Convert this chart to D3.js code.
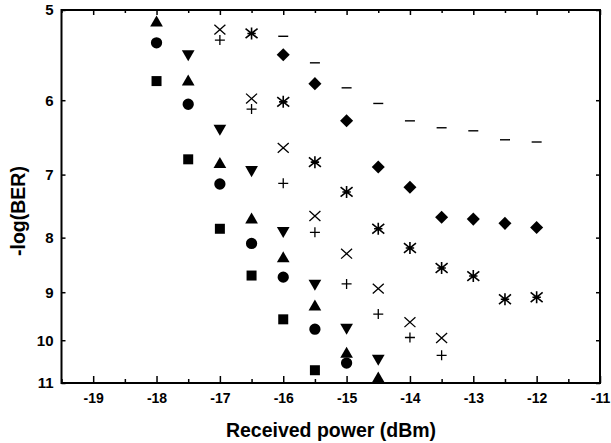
<!DOCTYPE html>
<html>
<head>
<meta charset="utf-8">
<script src="https://cdn.jsdelivr.net/npm/d3@7"></script>
<style>
  body { margin: 0; background: #fff; }
  svg { display: block; font-family: "Liberation Sans", Arial, sans-serif; font-weight: bold; }
  .axis text { font-size: 14px; font-weight: bold; fill: #000; }
  .axis.left text { font-size: 15px; }
  .axis line { stroke: #000; stroke-width: 1.5; }
  .axis path { display: none; }
</style>
</head>
<body>
<div id="chart"></div>
<script>
// x: received power (dBm), y: -log(BER)
const squareX = [-18, -17.5, -17, -16.5, -16, -15.5];
const squareY = [5.77, 6.78, 7.85, 8.68, 9.55, 10.69];

const circleX = [-18, -17.5, -17, -16.5, -16, -15.5, -15];
const circleY = [5.34, 6.05, 7.14, 8.10, 8.71, 9.76, 10.52];

const triUpX = [-18, -17.5, -17, -16.5, -16, -15.5, -15, -14.5];
const triUpY = [5.13, 5.78, 6.85, 7.70, 8.37, 9.29, 10.31, 10.90];

const triDownX = [-17.5, -17, -16.5, -16, -15.5, -15, -14.5];
const triDownY = [5.46, 6.36, 6.93, 7.88, 8.83, 9.72, 10.41];

const crossX = [-17, -16.5, -16, -15.5, -15, -14.5, -14, -13.5];
const crossY = [5.20, 5.98, 6.62, 7.64, 8.28, 8.93, 9.61, 9.95];

const plusX = [-17, -16.5, -16, -15.5, -15, -14.5, -14, -13.5];
const plusY = [5.31, 6.11, 7.13, 7.91, 8.84, 9.44, 9.94, 10.34];

const starX = [-16.5, -16, -15.5, -15, -14.5, -14, -13.5, -13, -12.5, -12];
const starY = [5.24, 6.02, 6.82, 7.26, 7.85, 8.18, 8.54, 8.69, 9.14, 9.10];

const diamondX = [-16, -15.5, -15, -14.5, -14, -13.5, -13, -12.5, -12];
const diamondY = [5.47, 5.80, 6.26, 6.89, 7.19, 7.66, 7.69, 7.76, 7.83];

const dashX = [-16, -15.5, -15, -14.5, -14, -13.5, -13, -12.5, -12];
const dashY = [5.27, 5.56, 5.85, 6.04, 6.26, 6.35, 6.39, 6.51, 6.54];

const xTicks = [-19, -18, -17, -16, -15, -14, -13, -12, -11];
const xMinorTicks = [-19.5, -18.5, -17.5, -16.5, -15.5, -14.5, -13.5, -12.5, -11.5];
const yTicks = [5, 6, 7, 8, 9, 10, 11];

const chartWidth = 611;
const chartHeight = 443;
const plotLeft = 61.5, plotRight = 600, plotTop = 10, plotBottom = 383;

let svg = d3.select('#chart').append('svg')
  .attr('width', chartWidth)
  .attr('height', chartHeight)

let x = d3.scaleLinear().domain([-19.5, -11]).range([plotLeft, plotRight])
// the y axis is compressed towards the bottom, a small negative power fits it
let y = d3.scalePow().exponent(-0.15).domain([5, 11]).range([plotTop, plotBottom])

// axes, ticks pointing inward
svg.append('g').attr('class', 'axis')
  .attr('transform', `translate(0,${plotBottom})`)
  .call(d3.axisBottom(x).tickValues(xTicks).tickSize(-7).tickPadding(10).tickFormat(d => String(d)))
svg.append('g').attr('class', 'axis')
  .attr('transform', `translate(0,${plotBottom})`)
  .call(d3.axisBottom(x).tickValues(xMinorTicks).tickSize(-4).tickFormat(''))
svg.append('g').attr('class', 'axis')
  .attr('transform', `translate(0,${plotTop})`)
  .call(d3.axisTop(x).tickValues(xTicks).tickSize(-5).tickFormat(''))
svg.append('g').attr('class', 'axis')
  .attr('transform', `translate(0,${plotTop})`)
  .call(d3.axisTop(x).tickValues(xMinorTicks).tickSize(-3).tickFormat(''))
svg.append('g').attr('class', 'axis left')
  .attr('transform', `translate(${plotLeft},0)`)
  .call(d3.axisLeft(y).tickValues(yTicks).tickSize(-4).tickPadding(8).tickFormat(d => String(d)))
svg.append('g').attr('class', 'axis')
  .attr('transform', `translate(${plotRight},0)`)
  .call(d3.axisRight(y).tickValues(yTicks).tickSize(-4).tickFormat(''))

svg.append('rect')
  .attr('x', plotLeft).attr('y', plotTop)
  .attr('width', plotRight - plotLeft).attr('height', plotBottom - plotTop)
  .attr('fill', 'none').attr('stroke', '#000').attr('stroke-width', 2)

svg.append('text')
  .attr('x', 331).attr('y', 437)
  .attr('text-anchor', 'middle')
  .style('font-size', '19.5px')
  .text('Received power (dBm)')

svg.append('text')
  .attr('transform', 'translate(25,211) rotate(-90)')
  .attr('text-anchor', 'middle')
  .style('font-size', '19.5px')
  .text('-log(BER)')

// custom stroke symbols
const timesSym = { draw(ctx, size) { const r = Math.sqrt(size) / 2;
  ctx.moveTo(-r, -r * 0.9); ctx.lineTo(r, r * 0.9); ctx.moveTo(r, -r * 0.9); ctx.lineTo(-r, r * 0.9); } };
const plusSym = { draw(ctx, size) { const r = Math.sqrt(size) / 2;
  ctx.moveTo(-r, 0); ctx.lineTo(r, 0); ctx.moveTo(0, -r); ctx.lineTo(0, r); } };
const starSym = { draw(ctx, size) { const r = Math.sqrt(size) / 2;
  ctx.moveTo(-r, -r * 0.8); ctx.lineTo(r, r * 0.8); ctx.moveTo(r, -r * 0.8); ctx.lineTo(-r, r * 0.8);
  ctx.moveTo(0, -r); ctx.lineTo(0, r); ctx.moveTo(-r * 0.7, 0); ctx.lineTo(r * 0.7, 0); } };
const dashSym = { draw(ctx, size) { const r = Math.sqrt(size) / 2;
  ctx.moveTo(-r, 0); ctx.lineTo(r, 0); } };

let series = [
  { xs: squareX, ys: squareY, type: d3.symbolSquare, size: 100, filled: true, rot: 0 },
  { xs: circleX, ys: circleY, type: d3.symbolCircle, size: 100, filled: true, rot: 0 },
  { xs: triUpX, ys: triUpY, type: d3.symbolTriangle, size: 70, filled: true, rot: 0 },
  { xs: triDownX, ys: triDownY, type: d3.symbolTriangle, size: 70, filled: true, rot: 180 },
  { xs: diamondX, ys: diamondY, type: d3.symbolSquare, size: 85, filled: true, rot: 45 },
  { xs: crossX, ys: crossY, type: timesSym, size: 121, filled: false, rot: 0, sw: 1.3 },
  { xs: plusX, ys: plusY, type: plusSym, size: 100, filled: false, rot: 0, sw: 1.3 },
  { xs: starX, ys: starY, type: starSym, size: 144, filled: false, rot: 0, sw: 1.6 },
  { xs: dashX, ys: dashY, type: dashSym, size: 100, filled: false, rot: 0, sw: 1.4 },
]

series.forEach(s => {
  let pts = s.xs.map((v, i) => [v, s.ys[i]])
  svg.append('g').selectAll('path').data(pts)
    .enter().append('path')
      .attr('transform', d => `translate(${x(d[0])},${y(d[1])}) rotate(${s.rot})`)
      .attr('d', d3.symbol().type(s.type).size(s.size))
      .attr('fill', s.filled ? '#000' : 'none')
      .attr('stroke', s.filled ? 'none' : '#000')
      .attr('stroke-width', s.sw || 0)
})
</script>
</body>
</html>
